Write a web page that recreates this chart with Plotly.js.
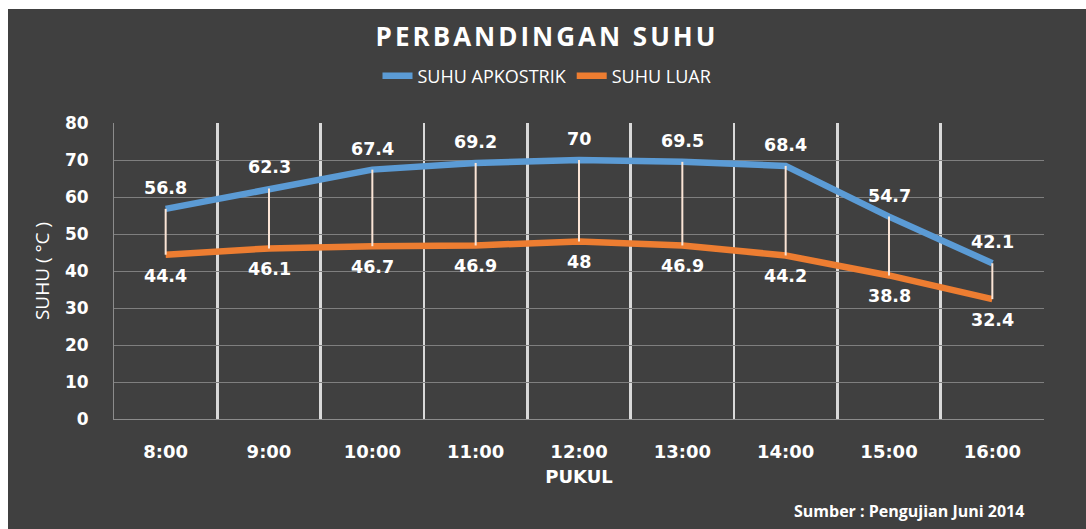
<!DOCTYPE html>
<html>
<head>
<meta charset="utf-8">
<script src="https://cdn.plot.ly/plotly-3.0.1.min.js"></script>
<style>
  html, body { margin: 0; padding: 0; background: #ffffff; }
  #chart { position: absolute; left: 8px; top: 9px; width: 1078px; height: 520px; }
  .gtitle { letter-spacing: 3px; }
</style>
</head>
<body>
<div id="chart"></div>
<script>
// ---- data ----
const categories = ['8:00', '9:00', '10:00', '11:00', '12:00', '13:00', '14:00', '15:00', '16:00'];
const suhuApkostrik = [56.8, 62.3, 67.4, 69.2, 70, 69.5, 68.4, 54.7, 42.1];
const suhuLuar = [44.4, 46.1, 46.7, 46.9, 48, 46.9, 44.2, 38.8, 32.4];
const yTickVals = [0, 10, 20, 30, 40, 50, 60, 70, 80];
const seriesNames = ['SUHU APKOSTRIK', 'SUHU LUAR'];

// ---- drop lines (built from the data) ----
const dropX = [], dropY = [];
categories.forEach((c, i) => {
  dropX.push(c, c, null);
  dropY.push(suhuApkostrik[i], suhuLuar[i], null);
});

const labelFont = { family: 'DejaVu Sans', size: 17.5, color: '#ffffff', weight: 'bold' };

const traces = [
  {
    x: categories, y: suhuApkostrik, name: seriesNames[0], type: 'scatter', mode: 'lines',
    line: { color: '#5b9bd5', width: 6.5 }, hoverinfo: 'x+y'
  },
  {
    x: categories, y: suhuLuar, name: seriesNames[1], type: 'scatter', mode: 'lines',
    line: { color: '#ed7d31', width: 6.5 }, hoverinfo: 'x+y'
  },
  {
    x: dropX, y: dropY, type: 'scatter', mode: 'lines', showlegend: false, hoverinfo: 'skip',
    line: { color: '#fbe5d6', width: 2 }, connectgaps: false
  }
];

const annotations = [];
categories.forEach((c, i) => {
  annotations.push({ x: c, y: suhuApkostrik[i], xref: 'x', yref: 'y', text: String(suhuApkostrik[i]),
    showarrow: false, yshift: 21, font: labelFont });
  annotations.push({ x: c, y: suhuLuar[i], xref: 'x', yref: 'y', text: String(suhuLuar[i]),
    showarrow: false, yshift: -21, font: labelFont });
});
annotations.push({
  xref: 'paper', yref: 'paper', x: 0.9806, y: -0.311, xanchor: 'right', yanchor: 'middle',
  text: 'Sumber : Pengujian Juni 2014', showarrow: false,
  font: { family: 'Open Sans', size: 16, color: '#ffffff', weight: 'bold' }
});

const layout = {
  width: 1078, height: 520,
  paper_bgcolor: '#404040', plot_bgcolor: '#404040',
  margin: { l: 106, r: 42, t: 114, b: 110 },
  title: {
    text: 'PERBANDINGAN SUHU', xref: 'container', x: 0.5, xanchor: 'center',
    yref: 'container', y: 0.946, yanchor: 'middle',
    font: { family: 'Open Sans', size: 26, color: '#ffffff', weight: 'bold' }
  },
  showlegend: true,
  legend: {
    orientation: 'h', xref: 'container', x: 0.5, xanchor: 'center',
    yref: 'container', y: 0.871, yanchor: 'middle',
    font: { family: 'Open Sans', size: 18, color: '#ffffff' },
    bgcolor: 'rgba(0,0,0,0)', itemwidth: 30
  },
  xaxis: {
    type: 'category', range: [-0.5, 8.5], tickson: 'boundaries',
    showgrid: true, gridcolor: '#d9d9d9', gridwidth: 2.5,
    showline: true, linecolor: '#8c8c8c', linewidth: 1,
    ticks: '', ticklabelstandoff: 16,
    tickfont: { family: 'DejaVu Sans', size: 18, color: '#ffffff', weight: 'bold' },
    title: { text: 'PUKUL', standoff: 9, font: { family: 'DejaVu Sans', size: 18, color: '#ffffff', weight: 'bold' } },
    zeroline: false, fixedrange: true
  },
  yaxis: {
    range: [0, 80], tickvals: yTickVals, ticktext: yTickVals.map(String),
    showgrid: true, gridcolor: '#7f7f7f', gridwidth: 1,
    showline: true, linecolor: '#8c8c8c', linewidth: 1,
    ticks: 'outside', ticklen: 21, tickcolor: 'rgba(0,0,0,0)',
    tickfont: { family: 'DejaVu Sans', size: 17, color: '#ffffff', weight: 'bold' },
    title: { text: 'SUHU ( °C )', standoff: 10, font: { family: 'Open Sans', size: 19, color: '#ffffff' } },
    zeroline: false, fixedrange: true
  },
  annotations: annotations
};

Plotly.newPlot('chart', traces, layout, { displayModeBar: false, staticPlot: true });
</script>
</body>
</html>
